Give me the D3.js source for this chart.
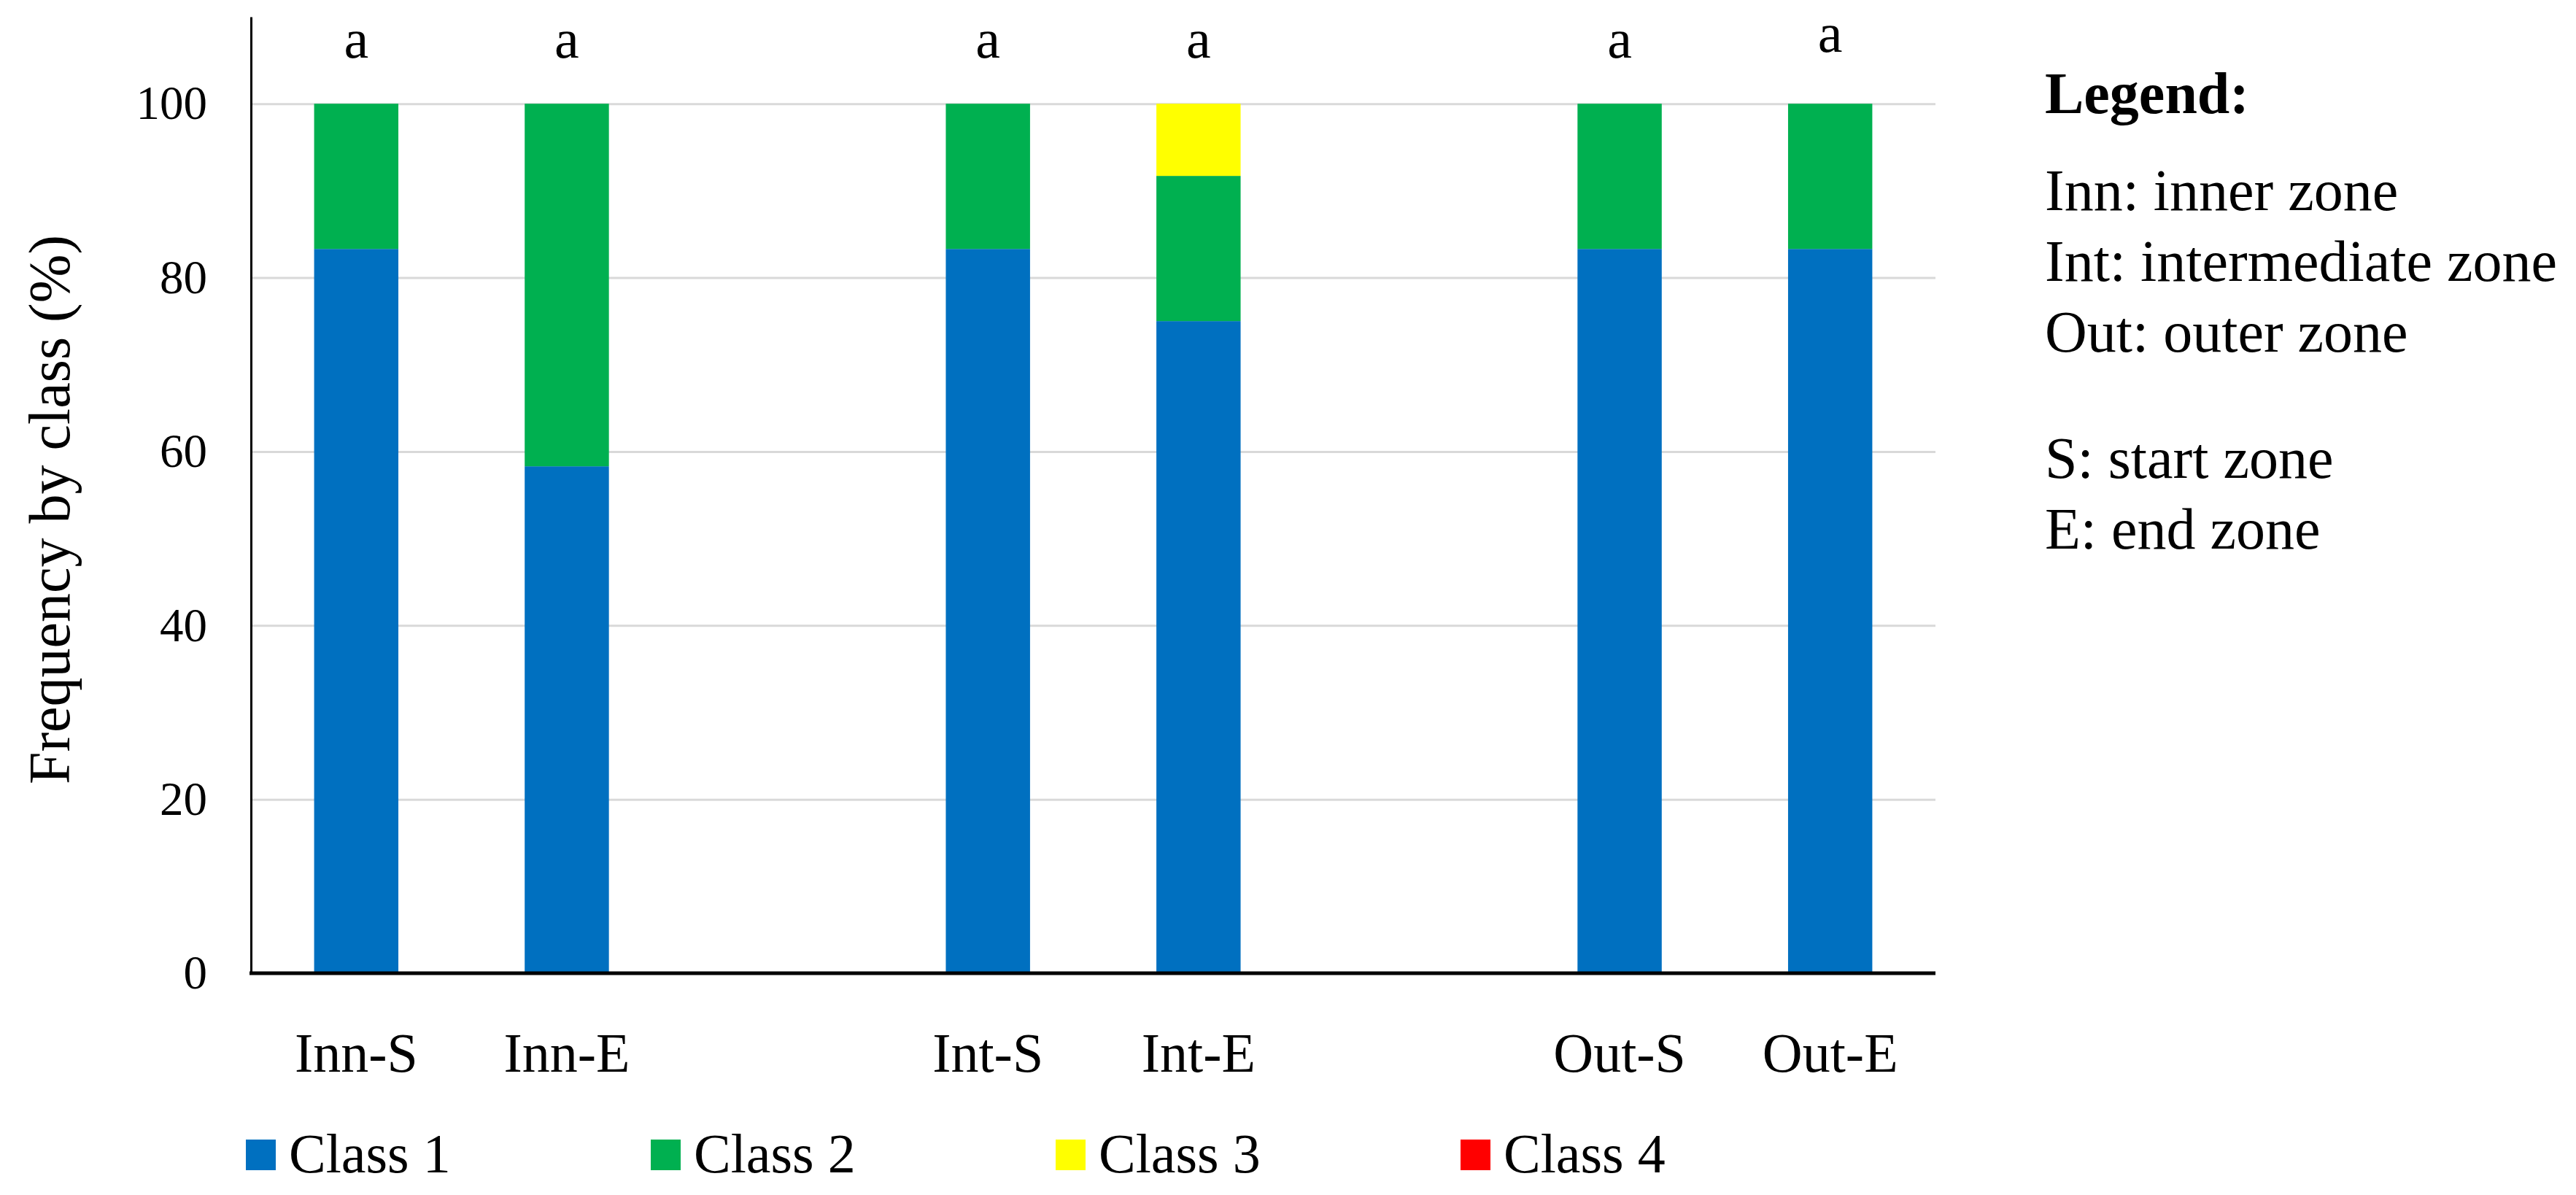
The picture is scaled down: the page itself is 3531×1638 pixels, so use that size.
<!DOCTYPE html>
<html>
<head>
<meta charset="utf-8">
<script src="https://cdn.jsdelivr.net/npm/d3@7"></script>
<style>
  body { margin: 0; background: #ffffff; }
  text { font-family: "Liberation Serif", "Times New Roman", serif; fill: #000; }
</style>
</head>
<body>
<svg id="chart"></svg>
<script>
const width = 3531
const height = 1638

// Data
const categories = ["Inn-S", "Inn-E", "Int-S", "Int-E", "Out-S", "Out-E"]
// slots along the x axis, empty slots separate the zones
const slotOrder = ["Inn-S", "Inn-E", "gap-1", "Int-S", "Int-E", "gap-2", "Out-S", "Out-E"]
const seriesNames = ["Class 1", "Class 2", "Class 3", "Class 4"]
const class1 = [83.3, 58.3, 83.3, 75.0, 83.3, 83.3]
const class2 = [16.7, 41.7, 16.7, 16.7, 16.7, 16.7]
const class3 = [0, 0, 0, 8.3, 0, 0]
const class4 = [0, 0, 0, 0, 0, 0]
const letters = ["a", "a", "a", "a", "a", "a"]
const yTicks = [0, 20, 40, 60, 80, 100]
const zoneNotes = ["Inn: inner zone", "Int: intermediate zone", "Out: outer zone"]
const endNotes = ["S: start zone", "E: end zone"]

// Style configuration
const seriesColors = ["#0070C0", "#00B050", "#FFFF00", "#FF0000"]
const gridColor = "#D9D9D9"

const plot = { left: 344, right: 2653, top: 23, bottom: 1334 }

const svg = d3.select("#chart")
    .attr("width", width)
    .attr("height", height)

const rows = categories.map((c, i) => ({
    category: c,
    "Class 1": class1[i],
    "Class 2": class2[i],
    "Class 3": class3[i],
    "Class 4": class4[i]
}))

const stacked = d3.stack().keys(seriesNames)(rows)

const x = d3.scaleBand()
    .domain(slotOrder)
    .range([plot.left, plot.right])
    .paddingInner(0.6)
    .paddingOuter(0.3)

const y = d3.scaleLinear()
    .domain([0, 110])
    .range([plot.bottom, plot.top])

// Gridlines
svg.append("g")
    .attr("transform", `translate(${plot.left},0)`)
    .call(d3.axisLeft(y).tickValues(yTicks.filter(t => t > 0)).tickSize(-(plot.right - plot.left)).tickFormat(""))
    .call(g => g.select(".domain").remove())
    .call(g => g.selectAll("line").attr("stroke", gridColor).attr("stroke-width", 3))

// Bars
svg.append("g")
    .selectAll("g")
    .data(stacked)
    .enter()
    .append("g")
    .attr("fill", (d, i) => seriesColors[i])
    .selectAll("rect")
    .data(d => d.filter(p => p[1] - p[0] > 0))
    .enter()
    .append("rect")
    .attr("x", d => x(d.data.category))
    .attr("width", x.bandwidth())
    .attr("y", d => y(d[1]))
    .attr("height", d => y(d[0]) - y(d[1]))

// Y axis
svg.append("g")
    .attr("transform", `translate(${plot.left},0)`)
    .call(d3.axisLeft(y).tickValues(yTicks).tickSize(0).tickSizeOuter(0).tickPadding(60))
    .call(g => g.select(".domain").attr("stroke", "#000").attr("stroke-width", 3))
    .call(g => g.selectAll("text").attr("font-size", 65).attr("font-family", "Liberation Serif, Times New Roman, serif"))

// X axis
svg.append("g")
    .attr("transform", `translate(0,${plot.bottom})`)
    .call(d3.axisBottom(x).tickSize(0).tickSizeOuter(0).tickPadding(81)
        .tickFormat(d => d.startsWith("gap") ? "" : d))
    .call(g => g.select(".domain").attr("stroke", "#000").attr("stroke-width", 5)
        .attr("d", `M${plot.left - 2},0H${plot.right}`))
    .call(g => g.selectAll("text").attr("font-size", 76).attr("font-family", "Liberation Serif, Times New Roman, serif"))

// Significance letters
const letterNudge = { "Out-E": -8 }
svg.append("g")
    .selectAll("text")
    .data(categories)
    .enter()
    .append("text")
    .attr("x", d => x(d) + x.bandwidth() / 2)
    .attr("y", d => 79 + (letterNudge[d] || 0))
    .attr("text-anchor", "middle")
    .attr("font-size", 76)
    .text((d, i) => letters[i])

// Y axis title
svg.append("text")
    .attr("transform", `translate(95,${(plot.top + plot.bottom) / 2 + 20}) rotate(-90)`)
    .attr("text-anchor", "middle")
    .attr("font-size", 80)
    .text("Frequency by class (%)")

// Bottom legend
const legendX = d3.scalePoint().domain(seriesNames).range([337, 2002])
const legendItems = svg.append("g")
    .selectAll("g")
    .data(seriesNames)
    .enter()
    .append("g")
    .attr("transform", d => `translate(${legendX(d)},1562)`)

legendItems.append("rect")
    .attr("width", 41)
    .attr("height", 42)
    .attr("fill", (d, i) => seriesColors[i])

legendItems.append("text")
    .attr("x", 59)
    .attr("y", 45)
    .attr("font-size", 76)
    .text(d => d)

// Side note
const notes = svg.append("g").attr("transform", "translate(2803,0)")

notes.append("text")
    .attr("y", 155)
    .attr("font-size", 80)
    .attr("font-weight", "bold")
    .text("Legend:")

notes.selectAll(".zone")
    .data(zoneNotes)
    .enter()
    .append("text")
    .attr("class", "zone")
    .attr("y", (d, i) => 288 + i * 97)
    .attr("font-size", 80)
    .text(d => d)

notes.selectAll(".end")
    .data(endNotes)
    .enter()
    .append("text")
    .attr("class", "end")
    .attr("y", (d, i) => 655 + i * 97)
    .attr("font-size", 80)
    .text(d => d)
</script>
</body>
</html>
